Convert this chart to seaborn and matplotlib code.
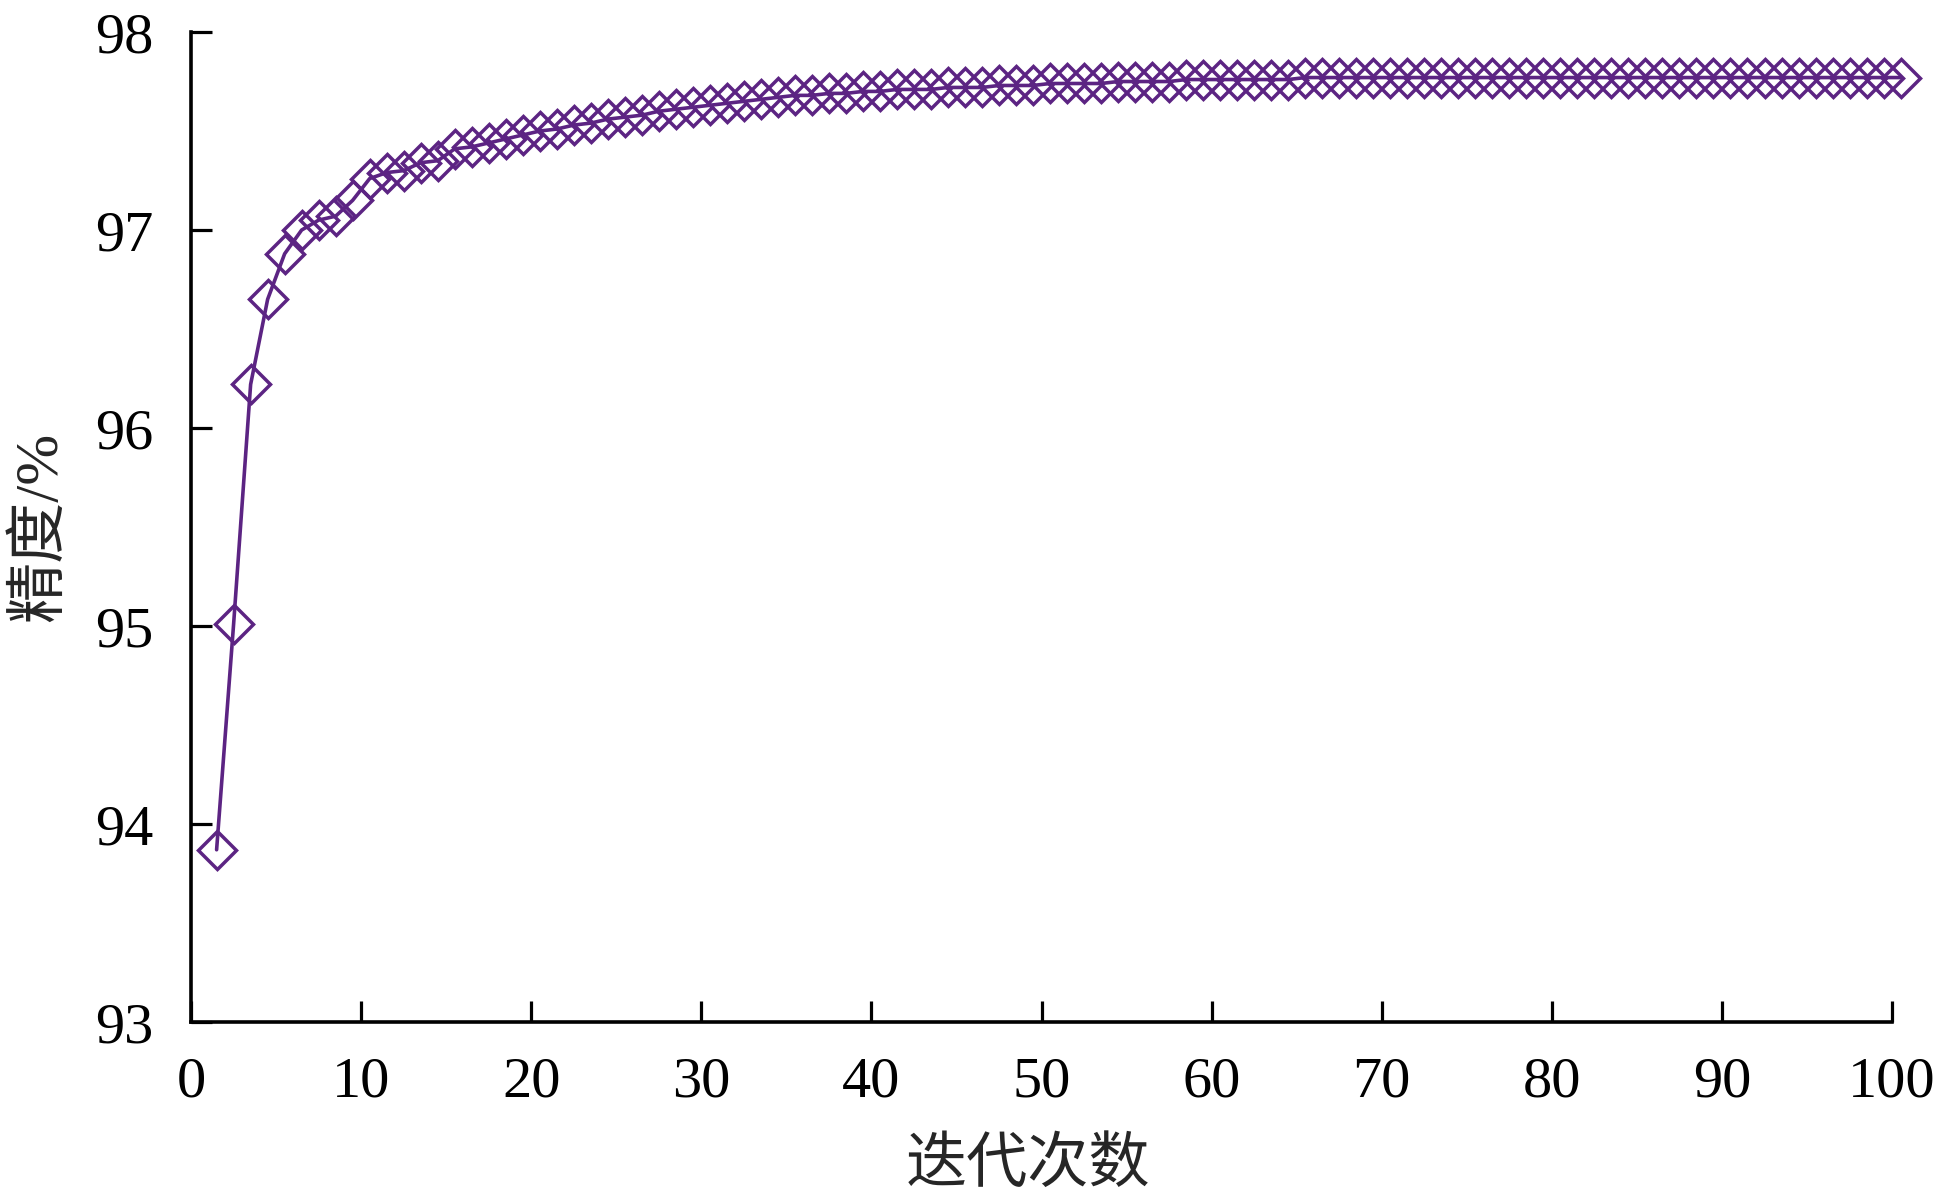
import numpy as np
import pandas as pd
import seaborn as sns
import matplotlib
matplotlib.use('Agg')
import matplotlib.pyplot as plt

# iterations 1..100 and accuracy (%)
iterations = list(range(1, 101))
accuracy = [
    93.87, 95.01, 96.22, 96.65, 96.88, 97.00, 97.05, 97.07, 97.15, 97.26,
    97.29, 97.30, 97.34, 97.35, 97.41, 97.42, 97.44, 97.46, 97.48, 97.50,
    97.51, 97.53, 97.54, 97.56, 97.57, 97.58, 97.60, 97.61, 97.62, 97.63,
    97.64, 97.65, 97.66, 97.67, 97.68, 97.68, 97.69, 97.69, 97.70, 97.70,
    97.71, 97.71, 97.71, 97.72, 97.72, 97.72, 97.73, 97.73, 97.73, 97.74,
    97.74, 97.74, 97.74, 97.75, 97.75, 97.75, 97.75, 97.76, 97.76, 97.76,
    97.76, 97.76, 97.76, 97.76, 97.77, 97.77, 97.77, 97.77, 97.77, 97.77,
    97.77, 97.77, 97.77, 97.77, 97.77, 97.77, 97.77, 97.77, 97.77, 97.77,
    97.77, 97.77, 97.77, 97.77, 97.77, 97.77, 97.77, 97.77, 97.77, 97.77,
    97.77, 97.77, 97.77, 97.77, 97.77, 97.77, 97.77, 97.77, 97.77, 97.77,
]
x_ticks = [0, 10, 20, 30, 40, 50, 60, 70, 80, 90, 100]
y_ticks = [93, 94, 95, 96, 97, 98]

df = pd.DataFrame({'iter': iterations, 'acc': accuracy})
# the original chart draws each point in the middle of its category slot
df['pos'] = df['iter'] + 0.5

sns.set_style('ticks')
plt.rcParams['font.family'] = ['Liberation Serif', 'Noto Sans CJK SC', 'DejaVu Sans']

purple = '#5c2483'

fig = plt.figure(figsize=(19.4, 11.99), dpi=100)
ax = fig.add_axes([0.0985, 0.1476, 0.8768, 0.8257])

sns.lineplot(data=df, x='pos', y='acc', ax=ax, color=purple, linewidth=2.6,
             marker='D', markersize=19, markerfacecolor='none',
             markeredgecolor=purple, markeredgewidth=2.5, clip_on=False)

ax.set_xlim(0, 100)
ax.set_ylim(93, 98)
ax.set_xticks(x_ticks)
ax.set_yticks(y_ticks)

sns.despine(ax=ax)
for side in ['left', 'bottom']:
    ax.spines[side].set_linewidth(2.6)
    ax.spines[side].set_color('black')

ax.tick_params(axis='both', direction='in', length=15, width=2.3,
               colors='black', labelsize=42)
ax.tick_params(axis='x', pad=25)
ax.tick_params(axis='y', pad=27)

ax.set_xlabel('迭代次数', fontsize=44, labelpad=21)
ax.xaxis.label.set_x(0.492)
ax.set_ylabel('精度/%', fontsize=44, labelpad=19)

fig.savefig('out.png', dpi=100)
